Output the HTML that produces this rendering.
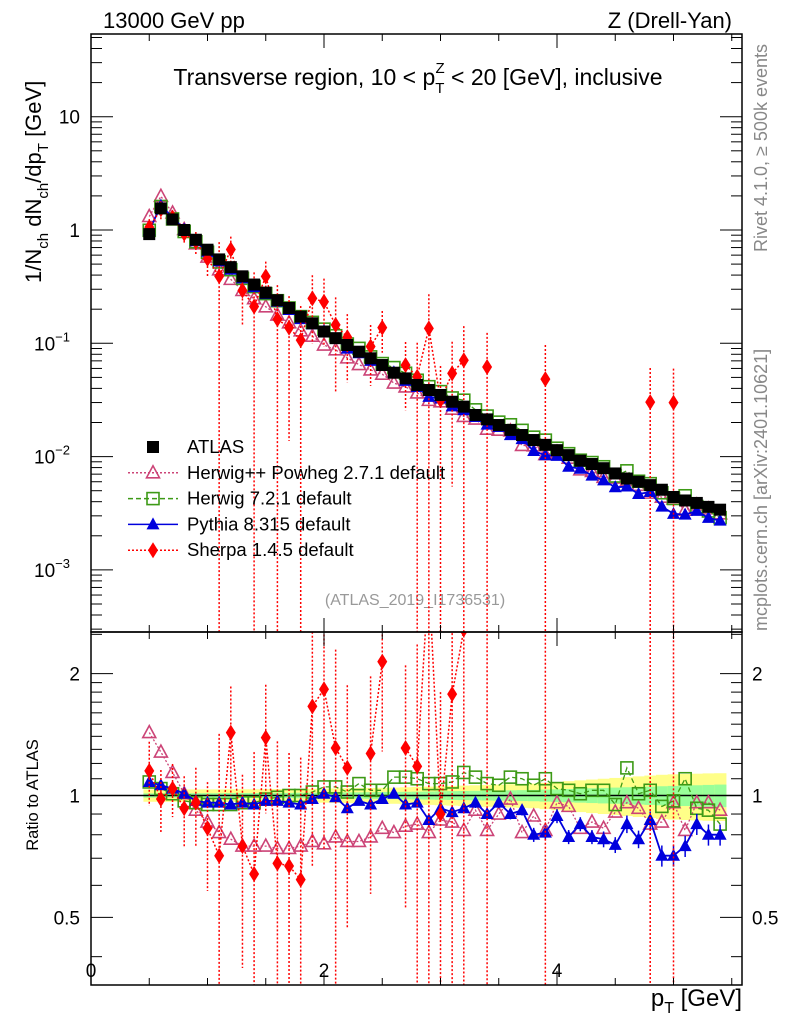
<!DOCTYPE html>
<html><head><meta charset="utf-8"><style>
html,body{margin:0;padding:0;background:#fff;width:786px;height:1024px;overflow:hidden;}
svg{display:block;font-family:"Liberation Sans",sans-serif;}
</style></head><body>
<svg id="c" width="786" height="1024" viewBox="0 0 786 1024">
<text x="103" y="28" font-size="22">13000 GeV pp</text>
<text x="732" y="28" font-size="22" text-anchor="end">Z (Drell-Yan)</text>
<text x="418" y="85" font-size="23" text-anchor="middle">Transverse region, 10 &lt; p<tspan dy="8" font-size="15">T</tspan><tspan dx="-9" dy="-20" font-size="15">Z</tspan><tspan dy="12"> &lt; 20 [GeV], inclusive</tspan></text>
<text transform="translate(41,283) rotate(-90)" font-size="22">1/N<tspan dy="7" font-size="15">ch</tspan><tspan dy="-7"> dN</tspan><tspan dy="7" font-size="15">ch</tspan><tspan dy="-7">/dp</tspan><tspan dy="7" font-size="15">T</tspan><tspan dy="-7"> [GeV]</tspan></text>
<text transform="translate(767,252) rotate(-90)" font-size="18" fill="#888">Rivet 4.1.0, ≥ 500k events</text>
<text transform="translate(767,631) rotate(-90)" font-size="18" fill="#888">mcplots.cern.ch [arXiv:2401.10621]</text>
<text x="415" y="605" font-size="16" fill="#999" text-anchor="middle">(ATLAS_2019_I1736531)</text>
<text transform="translate(38,795) rotate(-90)" font-size="16.5" text-anchor="middle">Ratio to ATLAS</text>
<text x="742" y="1006" font-size="24" text-anchor="end">p<tspan dy="7" font-size="16">T</tspan><tspan dy="-7"> [GeV]</tspan></text>
<g id="g"></g>
</svg>
<script>
const pT=[0.5,0.6,0.7,0.8,0.9,1.0,1.1,1.2,1.3,1.4,1.5,1.6,1.7,1.8,1.9,2.0,2.1,2.2,2.3,2.4,2.5,2.6,2.7,2.8,2.9,3.0,3.1,3.2,3.3,3.4,3.5,3.6,3.7,3.8,3.9,4.0,4.1,4.2,4.3,4.4,4.5,4.6,4.7,4.8,4.9,5.0,5.1,5.2,5.3,5.4];
const atlas=[0.92,1.55,1.24,1.0,0.82,0.67,0.55,0.47,0.39,0.33,0.28,0.24,0.205,0.172,0.150,0.127,0.111,0.0966,0.0843,0.0737,0.0643,0.055,0.049,0.0429,0.0387,0.035,0.0305,0.0276,0.0233,0.0213,0.019,0.0172,0.0155,0.014,0.0127,0.0114,0.0103,0.0092,0.0086,0.0079,0.0071,0.0064,0.006,0.0056,0.0051,0.0044,0.0041,0.0039,0.0036,0.0034];
const statErr=[0.012,0.012,0.012,0.012,0.013,0.013,0.013,0.014,0.014,0.014,0.015,0.015,0.015,0.016,0.016,0.017,0.017,0.018,0.018,0.019,0.02,0.02,0.021,0.022,0.023,0.024,0.025,0.026,0.027,0.028,0.029,0.03,0.031,0.032,0.034,0.036,0.038,0.04,0.042,0.044,0.046,0.048,0.05,0.052,0.054,0.056,0.058,0.06,0.062,0.064];
const totErr=[0.035,0.035,0.035,0.035,0.035,0.035,0.035,0.036,0.036,0.036,0.037,0.037,0.038,0.038,0.039,0.04,0.041,0.042,0.043,0.044,0.045,0.046,0.048,0.05,0.052,0.054,0.056,0.058,0.06,0.062,0.064,0.066,0.068,0.07,0.075,0.08,0.085,0.09,0.095,0.1,0.105,0.11,0.115,0.12,0.125,0.128,0.13,0.132,0.134,0.135];
const herwigpp=[1.43,1.28,1.14,1.01,0.92,0.86,0.81,0.78,0.75,0.75,0.75,0.74,0.74,0.75,0.77,0.76,0.79,0.77,0.77,0.79,0.83,0.81,0.84,0.85,0.81,0.87,0.86,0.82,0.92,0.82,0.9,0.98,0.81,0.89,0.82,0.96,0.94,0.83,0.86,0.83,0.91,0.96,0.93,0.85,0.86,0.96,0.82,0.96,0.96,0.92];
const herwig7=[1.08,1.04,1.01,0.97,0.96,0.95,0.95,0.95,0.96,0.96,0.98,0.99,1.0,1.0,1.02,1.05,1.05,1.02,1.07,1.03,1.03,1.11,1.11,1.10,1.07,1.07,1.08,1.14,1.11,1.07,1.06,1.11,1.10,1.06,1.10,1.04,1.03,1.01,1.03,1.03,0.95,1.17,1.01,1.03,0.94,0.97,1.10,0.93,0.92,0.85];
const pythia=[1.08,1.06,1.04,1.01,0.97,0.96,0.96,0.95,0.96,0.95,0.97,0.97,0.96,0.95,0.98,1.01,0.99,0.93,0.97,0.95,0.98,1.01,0.95,0.96,0.87,0.93,0.91,0.93,0.96,0.9,0.96,0.9,0.92,0.8,0.81,0.89,0.79,0.85,0.79,0.78,0.755,0.85,0.78,0.87,0.71,0.71,0.75,0.85,0.8,0.8];
const pythiaErr=[0.01,0.01,0.01,0.01,0.01,0.01,0.01,0.01,0.01,0.01,0.01,0.01,0.015,0.015,0.015,0.015,0.015,0.02,0.02,0.02,0.02,0.02,0.02,0.02,0.03,0.03,0.03,0.03,0.03,0.03,0.03,0.03,0.03,0.04,0.04,0.04,0.04,0.04,0.04,0.045,0.045,0.05,0.05,0.05,0.06,0.06,0.06,0.06,0.06,0.06];
const sherpa=[1.15,0.98,1.04,0.93,0.96,0.83,0.71,1.43,0.75,0.64,1.39,0.68,0.67,0.62,1.66,1.83,1.31,1.17,null,1.27,2.14,null,1.31,1.18,3.5,0.9,1.78,2.57,null,2.9,null,null,null,null,3.8,null,null,null,null,null,null,null,null,5.4,null,6.8,null,null,null,null];
const sherpaErr=[0.18,0.18,0.15,0.2,0.22,0.3,1,0.3,0.5,1,0.35,1,0.9,1,0.6,0.6,0.75,0.6,0,0.55,0.4,0,0.6,1,1,1,0.9,1,0,1,0,0,0,0,1,0,0,0,0,0,0,0,0,1,0,1,0,0,0,0];

const NS='http://www.w3.org/2000/svg';
const G=document.getElementById('g');
const L=91,R=742,T=34,M=632,B=985;
const X=v=>L+v*116.5;
const Ym=v=>230-113.3*Math.log10(v);
const Yr=v=>795.5-405*Math.log10(v);
function el(t,a,p){const e=document.createElementNS(NS,t);for(const k in a)e.setAttribute(k,a[k]);(p||G).appendChild(e);return e;}
const clipM=el('clipPath',{id:'cm'});el('rect',{x:L,y:T,width:R-L,height:M-T},clipM);
const clipR=el('clipPath',{id:'cr'});el('rect',{x:L,y:M,width:R-L,height:B-M},clipR);
const gm=el('g',{'clip-path':'url(#cm)'});


const gr=el('g',{'clip-path':'url(#cr)'});



const hw=0.05;
pT.forEach((p,i)=>{
  let b=el('rect',{x:X(p-hw),width:116.5*0.1+0.5,y:Yr(1+totErr[i]),height:Yr(1-totErr[i])-Yr(1+totErr[i]),fill:'#ffff88'},gr);
  
  
  let s=el('rect',{x:X(p-hw),width:116.5*0.1+0.5,y:Yr(1+statErr[i]),height:Yr(1-statErr[i])-Yr(1+statErr[i]),fill:'#99ff99'},gr);
  
  
});
let one=el('line',{x1:L,x2:R,y1:Yr(1),y2:Yr(1),stroke:'#000','stroke-width':1.5},gr);



function marker(g,type,x,y,color,name){
  let e;
  if(type==='sq') e=el('rect',{x:x-6,y:y-6,width:12,height:12,fill:color},g);
  else if(type==='osq') e=el('rect',{x:x-6,y:y-6,width:12,height:12,fill:'none',stroke:color,'stroke-width':1.6},g);
  else if(type==='otri') e=el('polygon',{points:`${x},${y-7} ${x-6.5},${y+5} ${x+6.5},${y+5}`,fill:'none',stroke:color,'stroke-width':1.6},g);
  else if(type==='tri') e=el('polygon',{points:`${x},${y-7} ${x-6.5},${y+5} ${x+6.5},${y+5}`,fill:color},g);
  else e=el('polygon',{points:`${x},${y-8} ${x-5},${y} ${x},${y+8} ${x+5},${y}`,fill:color},g);
  
  
}
function series(ratio,err,type,color,dash,name,width){
  [[gm,Ym,true],[gr,Yr,false]].forEach(([g,Y,main])=>{
    let pts=[];let seg=[];
    ratio.forEach((r,i)=>{
      if(r===null){if(seg.length)pts.push(seg);seg=[];return;}
      const v=main?r*atlas[i]:r;
      seg.push(X(pT[i]).toFixed(1)+','+Y(v).toFixed(1));
    });
    if(seg.length)pts.push(seg);
    pts.forEach(s=>{let pl=el('polyline',{points:s.join(' '),fill:'none',stroke:color,'stroke-width':width,'stroke-dasharray':dash},g);
      
      });
    ratio.forEach((r,i)=>{
      if(r===null)return;
      const v=main?r*atlas[i]:r;const x=X(pT[i]);
      if(err&&err[i]>0){const e=err[i]*r;const lo=r-e>0?(main?(r-e)*atlas[i]:r-e):1e-6;
        let eb=el('line',{x1:x,x2:x,y1:Y(main?(r+e)*atlas[i]:r+e),y2:Y(lo),stroke:color,'stroke-width':1.5,'stroke-dasharray':dash},g);
        
        }
      marker(g,type,x,Y(v),color,name+'-point');
    });
  });
}
series(herwigpp,null,'otri','#cc4477','2,2','herwigpp',1.3);
series(herwig7,null,'osq','#3d9a16','5,3','herwig7',1.3);
series(pythia,pythiaErr,'tri','#0000dd','','pythia',1.8);
series(sherpa,sherpaErr,'dia','#ff0000','2,2','sherpa',1.5);
pT.forEach((p,i)=>marker(gm,'sq',X(p),Ym(atlas[i]),'#000','atlas-point'));

[[T,M],[M,B]].forEach(([a,b],k)=>{let f=el('rect',{x:L,y:a,width:R-L,height:b-a,fill:'none',stroke:'#000','stroke-width':1.5});
  
  });
for(let v=0;v<=5.5;v+=0.5){const x=X(v);const maj=Math.abs(v%2)<1e-6;const len=maj?14:7;
  [[T,1],[M,-1],[M,1],[B,-1]].forEach(([y,d])=>{let t=el('line',{x1:x,x2:x,y1:y,y2:y+d*len,stroke:'#000','stroke-width':1});
    
    });
  if(maj){let t=el('text',{x:x,y:977,'font-size':19,'text-anchor':'middle'});t.textContent=String(v);
    
    }}
for(let e=-4;e<=1;e++){for(let m=1;m<=9;m++){const v=m*Math.pow(10,e);const y=Ym(v);if(y<T||y>M)continue;const len=m===1?22:11;
  [[L,1],[R,-1]].forEach(([x,d])=>{let t=el('line',{x1:x,x2:x+d*len,y1:y,y2:y,stroke:'#000','stroke-width':1});
    
    });
  if(m===1){let t=el('text',{x:e<0?79:80,y:y+7,'font-size':19,'text-anchor':'end'});
    if(e===1)t.textContent='10';else if(e===0)t.textContent='1';
    else{t.textContent='10';let s=el('tspan',{dy:-9,'font-size':13},t);s.textContent='−'+(-e);t.setAttribute('x',70);}
    
    }}}
[0.4,0.5,0.6,0.7,0.8,0.9,1,1.1,1.2,1.3,1.4,1.5,1.6,1.7,1.8,1.9,2,2.5].forEach(v=>{const y=Yr(v);if(y<M||y>B)return;const maj=(v===0.5||v===1||v===2);const len=maj?22:11;
  [[L,1],[R,-1]].forEach(([x,d])=>{let t=el('line',{x1:x,x2:x+d*len,y1:y,y2:y,stroke:'#000','stroke-width':1});
    
    });
  if(maj){[[80,'end'],[752,'start']].forEach(([x,a])=>{let t=el('text',{x:x,y:y+7,'font-size':19,'text-anchor':a});t.textContent=String(v);
    
    });}});
const legNames=['ATLAS','Herwig++ Powheg 2.7.1 default','Herwig 7.2.1 default','Pythia 8.315 default','Sherpa 1.4.5 default'];
const legType=['sq','otri','osq','tri','dia'];
const legCol=['#000','#cc4477','#3d9a16','#0000dd','#ff0000'];
const legDash=[null,'2,2','5,3','','2,2'];
legNames.forEach((n,i)=>{const y=447+i*25.8;
  if(legDash[i]!==null){let l=el('line',{x1:128,x2:178,y1:y,y2:y,stroke:legCol[i],'stroke-width':1.5,'stroke-dasharray':legDash[i]});
    
    }
  marker(G,legType[i],153,y,legCol[i],'legend-marker');
  let t=el('text',{x:187,y:y+6,'font-size':18.5});t.textContent=n;
  
  });
</script>
</body></html>
